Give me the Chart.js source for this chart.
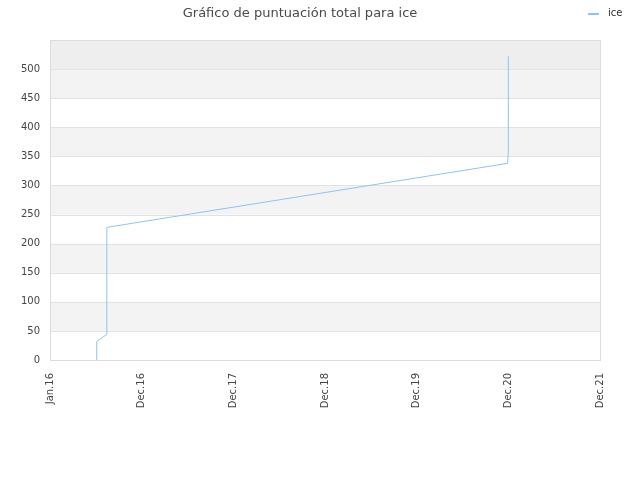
<!DOCTYPE html>
<html>
<head>
<meta charset="utf-8">
<script src="https://cdn.jsdelivr.net/npm/chart.js@4/dist/chart.umd.min.js"></script>
<style>
html,body{margin:0;padding:0;background:#fff;}
#wrap{width:640px;height:480px;}
</style>
</head>
<body>
<div id="wrap"><canvas id="c" width="640" height="480"></canvas></div>
<script>
// ---- data ----
const chartTitle = 'Gráfico de puntuación total para ice';
const seriesName = 'ice';
const xTickLabels = ['Jan.16', 'Dec.16', 'Dec.17', 'Dec.18', 'Dec.19', 'Dec.20', 'Dec.21'];
const yTickValues = [0, 50, 100, 150, 200, 250, 300, 350, 400, 450, 500];
// x positions in tick-interval units (0 = Jan.16, 1 = Dec.16, ...)
const pointX = [0.51, 0.51, 0.62, 0.62, 4.993, 5.0, 5.0];
const pointScore = [0, 32, 44, 228, 338, 359, 522];

const lineColor = 'rgb(144,194,246)';

const bandsPlugin = {
  id: 'bands',
  beforeDatasetsDraw(chart) {
    const {ctx, chartArea: a, scales: {y}} = chart;
    ctx.save();
    const edges = yTickValues.concat([y.max]);
    for (let i = 0; i < edges.length - 1; i++) {
      const top = y.getPixelForValue(edges[i + 1]);
      const bot = y.getPixelForValue(edges[i]);
      let fill = null;
      if (i === edges.length - 2) fill = '#eeeeee';
      else if (i % 2 === 1) fill = '#f3f3f3';
      if (fill) { ctx.fillStyle = fill; ctx.fillRect(a.left, top, a.right - a.left, bot - top); }
    }
    ctx.strokeStyle = '#e2e2e2';
    ctx.lineWidth = 1;
    for (const v of yTickValues) {
      const py = Math.round(y.getPixelForValue(v)) + 0.5;
      ctx.beginPath(); ctx.moveTo(a.left, py); ctx.lineTo(a.right, py); ctx.stroke();
    }
    ctx.strokeStyle = '#dcdcdc';
    ctx.strokeRect(Math.round(a.left) + 0.5, Math.round(a.top) + 0.5, Math.round(a.right - a.left), Math.round(a.bottom - a.top));
    ctx.restore();
  },
  afterDraw(chart) {
    const ctx = chart.ctx;
    ctx.save();
    ctx.strokeStyle = lineColor;
    ctx.lineWidth = 2;
    ctx.beginPath(); ctx.moveTo(588, 14); ctx.lineTo(599, 14); ctx.stroke();
    ctx.fillStyle = '#333';
    ctx.font = '10px "DejaVu Sans"';
    ctx.textBaseline = 'middle';
    ctx.textAlign = 'left';
    ctx.fillText(chart.data.datasets[0].label, 608, 13);
    ctx.restore();
  }
};

new Chart(document.getElementById('c'), {
  type: 'line',
  data: {
    datasets: [{
      label: seriesName,
      data: pointX.map((x, i) => ({x: x, y: pointScore[i]})),
      borderColor: lineColor,
      backgroundColor: lineColor,
      borderWidth: 1,
      pointRadius: 0,
      tension: 0,
      fill: false
    }]
  },
  options: {
    responsive: false,
    animation: false,
    layout: {padding: {top: 0, right: 40, left: 0, bottom: 0}},
    plugins: {
      legend: {display: false},
      tooltip: {enabled: false},
      title: {
        display: true,
        text: chartTitle,
        color: '#4a4a4a',
        font: {family: '"DejaVu Sans"', size: 13, weight: 'normal'},
        padding: {top: 6, bottom: 18.4}
      }
    },
    scales: {
      x: {
        type: 'linear',
        min: 0,
        max: xTickLabels.length - 1,
        afterBuildTicks(s) { s.ticks = xTickLabels.map((_, i) => ({value: i})); },
        afterFit(s) { s.height = 120; },
        grid: {display: false, drawTicks: false},
        border: {display: false},
        ticks: {
          autoSkip: false,
          minRotation: 90,
          maxRotation: 90,
          padding: 13,
          color: '#444',
          font: {family: '"DejaVu Sans"', size: 10}
          ,callback: (v) => xTickLabels[v]
        }
      },
      y: {
        min: 0,
        max: 550,
        afterBuildTicks(s) { s.ticks = yTickValues.map(v => ({value: v})); },
        afterFit(s) { s.width = 50; },
        grid: {display: false, drawTicks: false},
        border: {display: false},
        ticks: {
          padding: 10,
          color: '#444',
          font: {family: '"DejaVu Sans"', size: 10}
        }
      }
    }
  },
  plugins: [bandsPlugin]
});
</script>
</body>
</html>
